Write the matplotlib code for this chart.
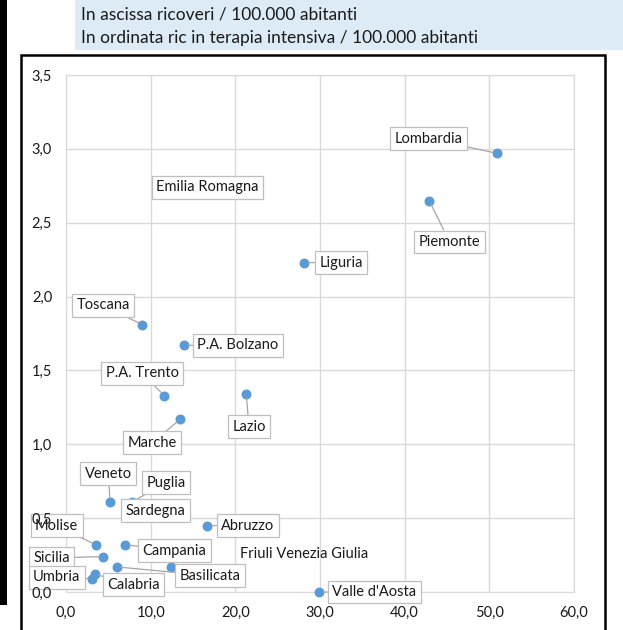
import numpy as np
import matplotlib
matplotlib.use('Agg')
import matplotlib.pyplot as plt
from matplotlib.patches import Rectangle
from matplotlib.ticker import FuncFormatter

plt.rcParams['font.family'] = ['Lato', 'DejaVu Sans']

# ricoveri / 100.000 abitanti (x) e terapia intensiva / 100.000 abitanti (y)
regioni = ['Lombardia', 'Piemonte', 'Liguria', 'Emilia Romagna', 'Toscana',
           'P.A. Bolzano', 'P.A. Trento', 'Lazio', 'Marche', 'Veneto',
           'Puglia', 'Sardegna', 'Abruzzo', 'Molise', 'Campania', 'Sicilia',
           'Umbria', 'Calabria', 'Basilicata', 'Friuli Venezia Giulia',
           "Valle d'Aosta"]
ricoveri = [50.9, 42.9, 28.1, 16.7, 9.0, 13.9, 11.6, 21.3, 13.5, 5.2,
            7.8, 7.3, 16.7, 3.5, 7.0, 4.4, 3.1, 3.4, 6.0, 12.4, 29.9]
terapia = [2.97, 2.65, 2.23, 2.74, 1.81, 1.67, 1.33, 1.34, 1.17, 0.61,
           0.61, 0.55, 0.45, 0.32, 0.32, 0.24, 0.09, 0.12, 0.17, 0.17, 0.0]

# dove stanno le etichette (coordinate dati)
pos_etichette = {
    'Lombardia': (42.8, 3.07), 'Piemonte': (45.3, 2.37), 'Liguria': (32.5, 2.23),
    'Emilia Romagna': (16.7, 2.74), 'Toscana': (4.4, 1.94),
    'P.A. Bolzano': (20.3, 1.67), 'P.A. Trento': (9.0, 1.48),
    'Lazio': (21.6, 1.12), 'Marche': (10.2, 1.01), 'Veneto': (5.0, 0.80),
    'Puglia': (11.8, 0.74), 'Sardegna': (10.6, 0.55), 'Abruzzo': (21.5, 0.45),
    'Molise': (-1.1, 0.45), 'Campania': (12.8, 0.28), 'Sicilia': (-1.7, 0.23),
    'Umbria': (-1.1, 0.10), 'Calabria': (8.0, 0.05), 'Basilicata': (17.0, 0.11),
    'Friuli Venezia Giulia': (28.1, 0.26), "Valle d'Aosta": (36.4, 0.0),
}

W, H = 623, 630
fig = plt.figure(figsize=(W/100, H/100), dpi=100)

# cornici e intestazione
fig.patches.append(Rectangle((0, 1-605/H), 7/W, 605/H, transform=fig.transFigure,
                             facecolor='black', edgecolor='none'))
fig.patches.append(Rectangle((75/W, 1-50/H), (W-75)/W, 50/H, transform=fig.transFigure,
                             facecolor='#DDEBF7', edgecolor='none'))
fig.patches.append(Rectangle((21/W, -0.05), (605-21)/W, 0.05+1-55/H, transform=fig.transFigure,
                             facecolor='none', edgecolor='black', lw=1.8))
fig.text(81/W, 1-15/H, 'In ascissa ricoveri / 100.000 abitanti', fontsize=12.5,
         va='center', ha='left', color='#1a1a1a')
fig.text(81/W, 1-38/H, 'In ordinata ric in terapia intensiva / 100.000 abitanti', fontsize=12.5,
         va='center', ha='left', color='#1a1a1a')

ax = fig.add_axes([66/W, (H-592)/H, (574-66)/W, (592-75)/H])
ax.set_xlim(0, 60)
ax.set_ylim(0, 3.5)
ax.set_xticks(np.arange(0, 61, 10))
ax.set_yticks(np.arange(0, 3.51, 0.5))
fmt = FuncFormatter(lambda v, p: ('%.1f' % v).replace('.', ','))
ax.xaxis.set_major_formatter(fmt)
ax.yaxis.set_major_formatter(fmt)
ax.tick_params(length=0, labelsize=10.5, colors='#1a1a1a')
ax.tick_params(axis='y', pad=10)
ax.tick_params(axis='x', pad=10)

# griglia disegnata a mano, cosi' le etichette dell'asse y restano sopra i box
for v in ax.get_xticks():
    ax.axvline(v, color='#D9D9D9', lw=1, zorder=0)
for v in ax.get_yticks():
    ax.axhline(v, color='#D9D9D9', lw=1, zorder=0)
ax.yaxis.set_zorder(6)
for s in ax.spines.values():
    s.set_color('#D9D9D9')

ax.scatter(ricoveri, terapia, s=38, color='#5B9BD5', zorder=3, clip_on=False)

for nome, x, y in zip(regioni, ricoveri, terapia):
    tx, ty = pos_etichette[nome]
    if nome == 'Friuli Venezia Giulia':
        ax.text(tx, ty, nome, fontsize=10.5, ha='center', va='center', color='#1a1a1a', zorder=5)
        continue
    ax.annotate(nome, xy=(x, y), xytext=(tx, ty), fontsize=10.5, ha='center', va='center',
                color='#1a1a1a', zorder=5, annotation_clip=False,
                bbox=dict(boxstyle='square,pad=0.3', fc='white', ec='#BFBFBF', lw=0.9),
                arrowprops=dict(arrowstyle='-', color='#A6A6A6', lw=0.9, shrinkA=0, shrinkB=3))

fig.savefig('out.png', dpi=100)
